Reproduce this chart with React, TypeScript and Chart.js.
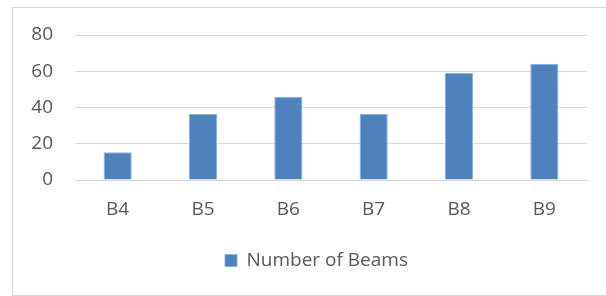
import React, { useEffect, useRef } from "react";
import { Chart, registerables } from "chart.js";

Chart.register(...registerables);

const categories = ["B4", "B5", "B6", "B7", "B8", "B9"];
const beams = [15.3, 36.4, 46, 36.5, 59, 64];
const seriesLabel = "Number of Beams";
const yTicks = [0, 20, 40, 60, 80];

const TEXT = "#595959";
const GRID = "#d9d9d9";
const FONT = "'Open Sans', sans-serif";

const shiftLegend = {
  id: "shiftLegend",
  afterLayout(chart: any) {
    const l = chart.legend;
    if (l) {
      l.left += 23;
      l.right += 23;
    }
  },
};

export default function App() {
  const ref = useRef<HTMLCanvasElement | null>(null);

  useEffect(() => {
    const canvas = ref.current;
    if (!canvas) return;
    const chart = new Chart(canvas, {
      type: "bar",
      data: {
        labels: categories,
        datasets: [
          {
            label: seriesLabel,
            data: beams,
            backgroundColor: "#4f81bd",
            borderColor: "#8fb0d8",
            borderWidth: 1,
            categoryPercentage: 1,
            barPercentage: 0.33,
          },
        ],
      },
      plugins: [shiftLegend],
      options: {
        animation: false,
        responsive: false,
        maintainAspectRatio: false,
        devicePixelRatio: 1,
        layout: { padding: { left: 0, right: 19, top: 35, bottom: 16 } },
        plugins: {
          tooltip: { enabled: false },
          legend: {
            position: "bottom",
            labels: {
              boxWidth: 12,
              boxHeight: 12,
              padding: 10,
              color: TEXT,
              font: { family: FONT, size: 19 },
            },
          },
        },
        scales: {
          x: {
            grid: { display: false, drawTicks: false },
            border: { display: true, color: GRID, width: 1 },
            ticks: { color: TEXT, font: { family: FONT, size: 19 }, padding: 18 },
            afterFit: (s: any) => {
              s.height = 61;
            },
          },
          y: {
            min: 0,
            max: 80,
            afterBuildTicks: (s: any) => {
              s.ticks = yTicks.map((v) => ({ value: v }));
            },
            grid: { color: GRID, lineWidth: 1, drawTicks: false },
            border: { display: false },
            ticks: { color: TEXT, font: { family: FONT, size: 19 }, padding: 22 },
            afterFit: (s: any) => {
              s.width = 75;
            },
          },
        },
      },
    });
    return () => chart.destroy();
  }, []);

  return (
    <div style={{ position: "fixed", inset: 0, overflow: "hidden", background: "#fff" }}>
      <div
        style={{
          position: "absolute",
          left: 12,
          top: 7,
          right: 0,
          height: 289,
          boxSizing: "border-box",
          border: `1px solid ${GRID}`,
          borderRight: "none",
        }}
      />
      <canvas
        ref={ref}
        width={606}
        height={296}
        style={{ position: "absolute", left: 0, top: 0, width: 606, height: 296 }}
      />
    </div>
  );
}
